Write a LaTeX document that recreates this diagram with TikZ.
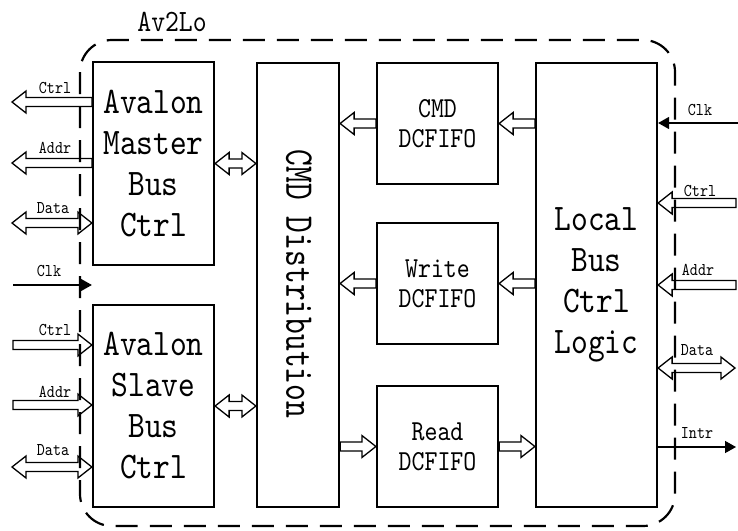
\documentclass[tikz,border=0pt]{standalone}
\usepackage{fontspec}
\newfontfamily\dfont[FakeStretch=0.85]{lmmono10-regular.otf}
\newfontfamily\rfont[FakeStretch=0.78]{lmmono10-regular.otf}
\usetikzlibrary{arrows.meta,calc}
\tikzset{
  blk/.style={draw, line width=2.2pt, inner sep=0pt, align=center,
    font=\dfont\fontsize{37.5}{41}\selectfont},
  fifo/.style={blk, minimum width=121pt, minimum height=121pt,
    font=\dfont\fontsize{29}{30}\selectfont},
  lbl/.style={inner sep=0pt, font=\dfont\fontsize{18}{18}\selectfont},
  fatarrow/.style={draw, fill=white, line width=1.3pt, line join=miter,
    to path={let \p1=(\tikztostart), \p2=(\tikztotarget), \n1={sign(\x2-\x1)} in
      (\x1,{\y1+4.5pt}) -- ({\x2-\n1*14pt},{\y1+4.5pt}) -- ({\x2-\n1*14pt},{\y1+11pt})
      -- (\x2,\y1) -- ({\x2-\n1*14pt},{\y1-11pt}) -- ({\x2-\n1*14pt},{\y1-4.5pt})
      -- (\x1,{\y1-4.5pt}) -- cycle}},
  fatboth/.style={draw, fill=white, line width=1.3pt, line join=miter,
    to path={let \p1=(\tikztostart), \p2=(\tikztotarget), \n1={sign(\x2-\x1)} in
      ({\x1+\n1*14pt},{\y1+4.5pt}) -- ({\x2-\n1*14pt},{\y1+4.5pt}) -- ({\x2-\n1*14pt},{\y1+11pt})
      -- (\x2,\y1) -- ({\x2-\n1*14pt},{\y1-11pt}) -- ({\x2-\n1*14pt},{\y1-4.5pt})
      -- ({\x1+\n1*14pt},{\y1-4.5pt}) -- ({\x1+\n1*14pt},{\y1-11pt}) -- (\x1,\y1)
      -- ({\x1+\n1*14pt},{\y1+11pt}) -- cycle}},
  thinarrow/.style={line width=1.4pt, -{Triangle[length=11pt,width=12pt]}},
  boundary/.style={line width=2.2pt, dash pattern=on 22pt off 12pt, rounded corners=32pt}
}
\begin{document}
\begin{tikzpicture}[x=1pt,y=-1pt]
\useasboundingbox (0,0) rectangle (738,530);

% blocks
\node[blk, minimum width=121pt, minimum height=203pt] (mas) at (153.5,163.5) {Avalon\\Master\\Bus\\Ctrl};
\node[blk, minimum width=121pt, minimum height=202pt] (sla) at (153.5,406) {Avalon\\Slave\\Bus\\Ctrl};
\node[blk, minimum width=82pt, minimum height=444pt] (dist) at (298,285) {};
\node[inner sep=0pt, rotate=-90, font=\rfont\fontsize{41}{41}\selectfont] (distt) at (299,284) {CMD Distribution};
\node[fifo] (cmd) at (437.5,123.5) {CMD\\DCFIFO};
\node[fifo] (wr) at (437.5,283.5) {Write\\DCFIFO};
\node[fifo] (rd) at (437.5,446.5) {Read\\DCFIFO};
\node[blk, minimum width=121pt, minimum height=444pt] (loc) at (596.5,285) {Local\\Bus\\Ctrl\\Logic};

% internal connectors
\draw[fatarrow] (cmd.west) to (cmd.west -| dist.east);
\draw[fatarrow] (wr.west) to (wr.west -| dist.east);
\draw[fatarrow] (rd.west -| dist.east) to (rd.west);
\draw[fatarrow] (cmd.east -| loc.west) to (cmd.east);
\draw[fatarrow] (wr.east -| loc.west) to (wr.east);
\draw[fatarrow] (rd.east) to (rd.east -| loc.west);
\draw[fatboth] (mas.east) to (mas.east -| dist.west);
\draw[fatboth] (sla.east) to (sla.east -| dist.west);

% free ends
\coordinate (mctrl) at (12,102);
\coordinate (maddr) at (12,163);
\coordinate (mdata) at (12,223);
\coordinate (lclk) at (13,285);
\coordinate (sctrl) at (13,345);
\coordinate (saddr) at (13,405);
\coordinate (sdata) at (12,467);
\coordinate (rclk) at (738,123);
\coordinate (rctrl) at (736,203);
\coordinate (raddr) at (736,285);
\coordinate (rdata) at (735,368);
\coordinate (rintr) at (736,447);

% external connectors
\draw[fatarrow] (mctrl -| mas.west) to (mctrl);
\draw[fatarrow] (maddr -| mas.west) to (maddr);
\draw[fatboth] (mdata) to (mdata -| mas.west);
\draw[thinarrow] (lclk) -- (lclk -| sla.west);
\draw[fatarrow] (sctrl) to (sctrl -| sla.west);
\draw[fatarrow] (saddr) to (saddr -| sla.west);
\draw[fatboth] (sdata) to (sdata -| sla.west);
\draw[thinarrow] (rclk) -- (rclk -| loc.east);
\draw[fatarrow] (rctrl) to (rctrl -| loc.east);
\draw[fatarrow] (raddr) to (raddr -| loc.east);
\draw[fatboth] (rdata -| loc.east) to (rdata);
\draw[thinarrow] (rintr -| loc.east) -- (rintr);

% labels
\node[lbl] (t1) at (55,88) {Ctrl};
\node[lbl] (t2) at (55,148) {Addr};
\node[lbl] (t3) at (53,208) {Data};
\node[lbl] (t4) at (49,271) {Clk};
\node[lbl] (t5) at (55,330) {Ctrl};
\node[lbl] (t6) at (55,392) {Addr};
\node[lbl] (t7) at (53,450) {Data};
\node[lbl] (t8) at (700,110) {Clk};
\node[lbl] (t9) at (700,191) {Ctrl};
\node[lbl] (t10) at (698,270) {Addr};
\node[lbl] (t11) at (697,350) {Data};
\node[lbl] (t12) at (697,433) {Intr};

% boundary
\draw[boundary] (80,40) rectangle (675,526);
\node[inner sep=0pt, font=\dfont\fontsize{31}{31}\selectfont] (title) at (172,22) {Av2Lo};
\end{tikzpicture}
\end{document}
